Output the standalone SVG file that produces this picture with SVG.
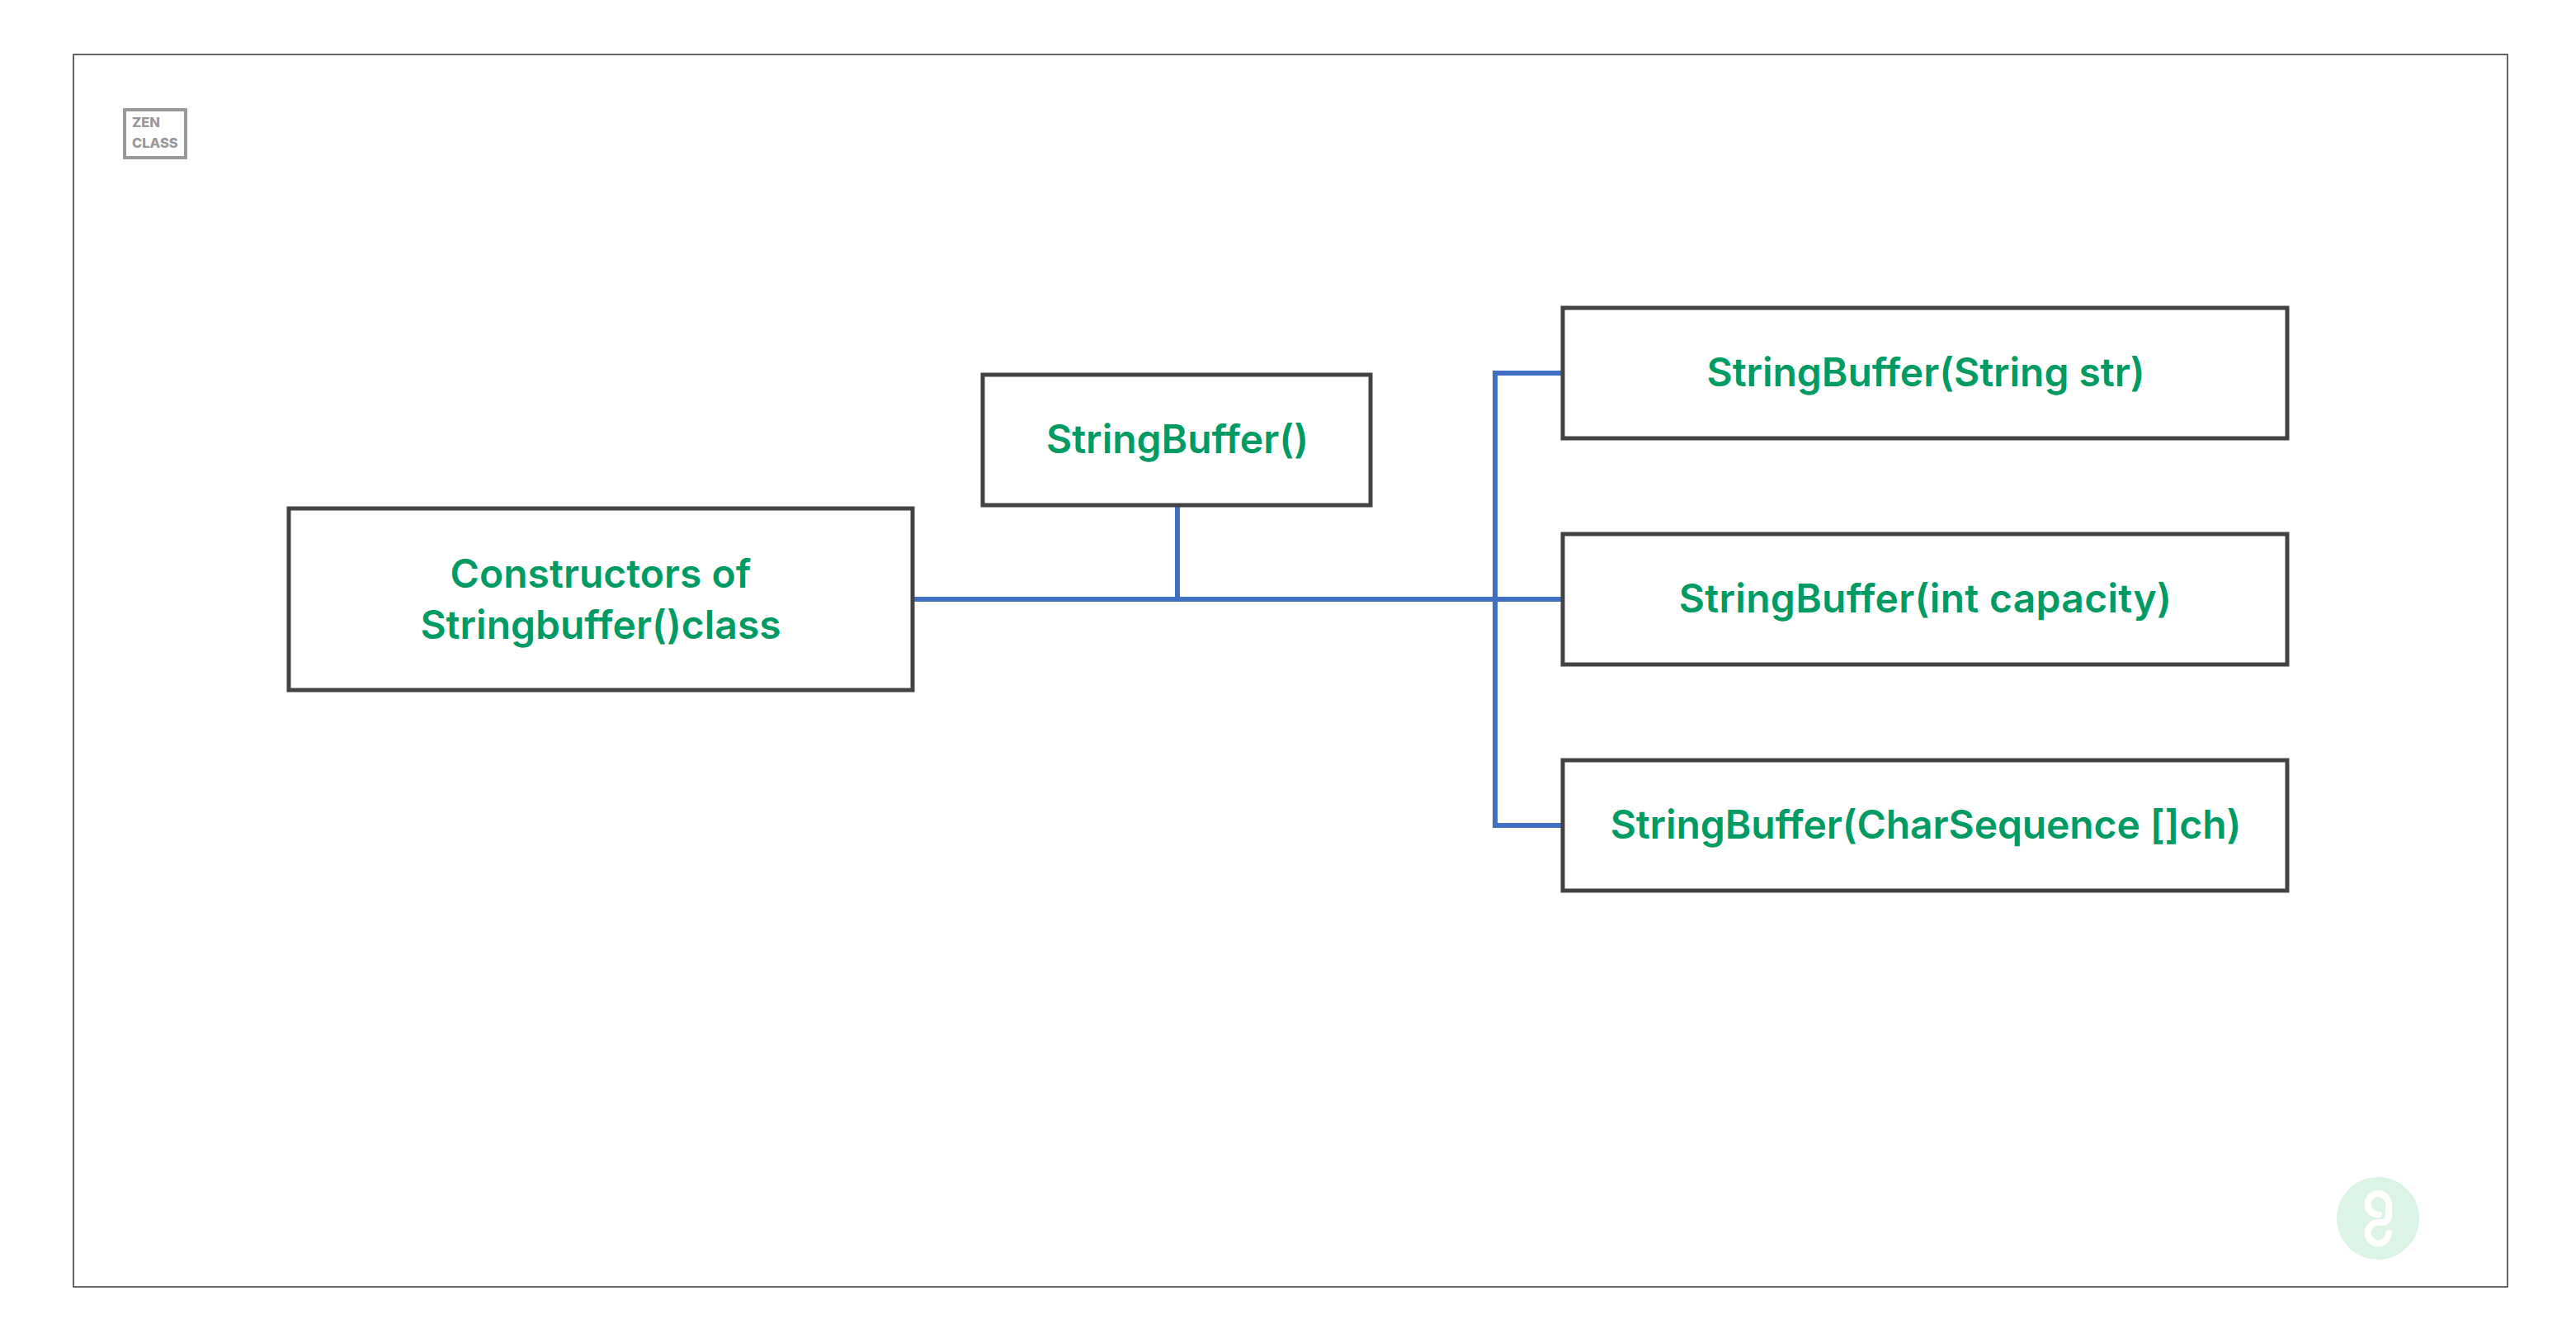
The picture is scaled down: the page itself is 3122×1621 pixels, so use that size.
<svg xmlns="http://www.w3.org/2000/svg" width="3122" height="1621" viewBox="0 0 3122 1621">
<style>
.box{fill:#fff;stroke:#434343;stroke-width:5}
.t{font-family:"Inter","Liberation Sans",sans-serif;font-weight:600;font-size:48px;fill:#009b63;text-anchor:middle}
.c{fill:none;stroke:#4070c4;stroke-width:6}
.z{font-family:"Inter","Liberation Sans",sans-serif;font-weight:800;font-size:16.500px;fill:#999}
</style>
<rect width="3122" height="1621" fill="#fff"/>
<rect x="89" y="66" width="2950" height="1493" fill="#fff" stroke="#333" stroke-width="1.500"/>
<g id="zen-logo"><rect x="151" y="133" width="74" height="58" fill="#fff" stroke="#999" stroke-width="4"/><text class="z" x="160" y="154">ZEN</text><text class="z" x="160" y="179">CLASS</text></g>
<g id="connectors">
<path class="c" d="M1106 726H1892"/>
<path class="c" d="M1427 612V726"/>
<path class="c" d="M1892 452H1812V1000H1892"/>
</g>
<g id="n1"><rect class="box" x="350" y="616" width="756" height="220"/><text class="t" x="728" y="712">Constructors of</text><text class="t" x="728" y="774">Stringbuffer()class</text></g>
<g id="n2"><rect class="box" x="1191" y="454" width="470" height="158"/><text class="t" x="1427" y="549">StringBuffer()</text></g>
<g id="n3"><rect class="box" x="1894" y="373" width="878" height="158"/><text class="t" x="2334" y="468" style="letter-spacing:-.05px">StringBuffer(String str)</text></g>
<g id="n4"><rect class="box" x="1894" y="647" width="878" height="158"/><text class="t" x="2333.500" y="742" style="letter-spacing:.3px">StringBuffer(int capacity)</text></g>
<g id="n5"><rect class="box" x="1894" y="921" width="878" height="158"/><text class="t" x="2334" y="1016" style="letter-spacing:-.1px">StringBuffer(CharSequence []ch)</text></g>
<g id="badge"><circle cx="2882" cy="1476" r="50" fill="#dbf4e6"/><path d="M2883 1471.500A12.700 12.700 0 1 1 2895 1459V1473A8 8 0 0 1 2887 1481H2882A12.700 12.700 0 1 0 2895 1494" fill="none" stroke="#fff" stroke-width="8" stroke-linecap="round"/></g>
</svg>
